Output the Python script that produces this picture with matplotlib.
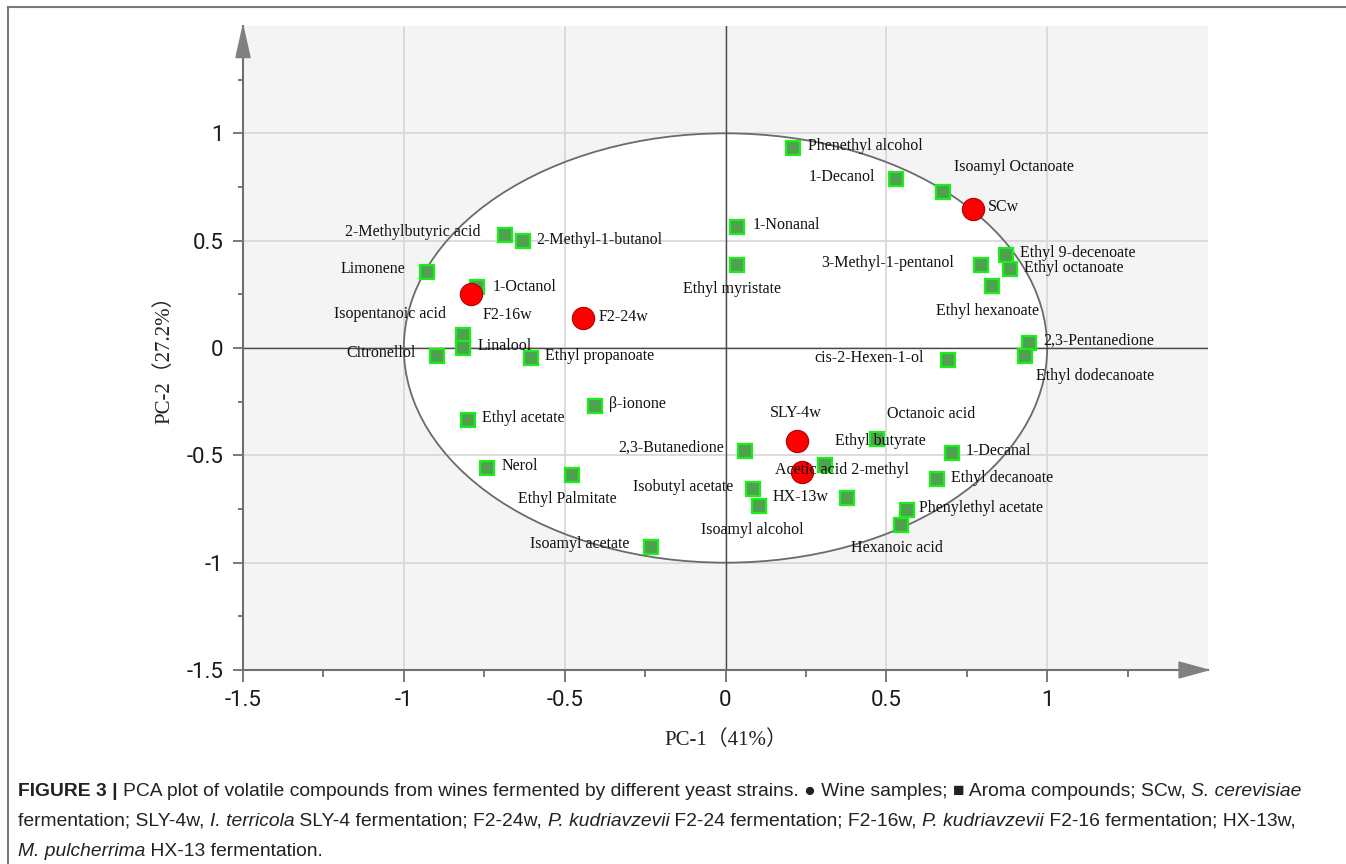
import matplotlib.pyplot as plt
from matplotlib.patches import Ellipse, Polygon
from matplotlib.lines import Line2D
from matplotlib.ticker import FixedLocator, FuncFormatter
import matplotlib.transforms as mtransforms

plt.rcParams['axes.unicode_minus'] = False

# Loadings of the aroma compounds on PC-1 / PC-2
compounds = ['Phenethyl alcohol', '1-Decanol', 'Isoamyl Octanoate', '1-Nonanal',
             'Ethyl myristate', '3-Methyl-1-pentanol', 'Ethyl 9-decenoate',
             'Ethyl octanoate', 'Ethyl hexanoate', '2,3-Pentanedione',
             'Ethyl dodecanoate', 'cis-2-Hexen-1-ol', '2-Methylbutyric acid',
             '2-Methyl-1-butanol', 'Limonene', '1-Octanol', 'Isopentanoic acid',
             'Linalool', 'Citronellol', 'Ethyl propanoate', 'β-ionone',
             'Ethyl acetate', 'Nerol', 'Ethyl Palmitate', 'Isoamyl acetate',
             '2,3-Butanedione', 'Isobutyl acetate', 'Isoamyl alcohol',
             'Ethyl butyrate', 'Octanoic acid', 'Acetic acid 2-methyl',
             '1-Decanal', 'Ethyl decanoate', 'Phenylethyl acetate', 'Hexanoic acid']
comp_pc1 = [0.211, 0.529, 0.675, 0.037, 0.037, 0.793, 0.871, 0.883, 0.830, 0.945,
            0.930, 0.693, -0.684, -0.631, -0.927, -0.774, -0.815, -0.815, -0.896,
            -0.606, -0.407, -0.799, -0.740, -0.476, -0.233, 0.062, 0.087, 0.103,
            0.308, 0.470, 0.379, 0.703, 0.656, 0.563, 0.547]
comp_pc2 = [0.931, 0.787, 0.726, 0.563, 0.386, 0.386, 0.433, 0.368, 0.289, 0.023,
            -0.037, -0.056, 0.526, 0.498, 0.354, 0.284, 0.061, 0.000, -0.037,
            -0.047, -0.270, -0.335, -0.559, -0.591, -0.926, -0.480, -0.656, -0.736,
            -0.545, -0.424, -0.698, -0.489, -0.610, -0.754, -0.824]

# Scores of the wine samples
samples = ['SCw', 'F2-16w', 'F2-24w', 'SLY-4w', 'HX-13w']
samp_pc1 = [0.768, -0.790, -0.442, 0.221, 0.239]
samp_pc2 = [0.647, 0.251, 0.140, -0.433, -0.577]

# label placement: offset from the marker in pixels, horizontal alignment
comp_label_pos = [(15, 2, 'left'), (-21, 2, 'right'), (11, 25, 'left'), (15, 2, 'left'),
                  (-5, -24, 'center'), (-26, 2, 'right'), (14, 2, 'left'),
                  (14, 1, 'left'), (-5, -25, 'center'), (14, 2, 'left'),
                  (11, -20, 'left'), (-25, 2, 'right'), (-25, 3, 'right'),
                  (14, 1, 'left'), (-22, 3, 'right'), (16, 0, 'left'),
                  (-17, 21, 'right'), (14, 2, 'left'), (-22, 3, 'right'),
                  (14, 2, 'left'), (14, 2, 'left'), (14, 2, 'left'), (14, 2, 'left'),
                  (-5, -24, 'center'), (-21, 3, 'right'), (-21, 3, 'right'),
                  (-20, 2, 'right'), (-6, -24, 'center'), (10, 24, 'left'),
                  (10, 25, 'left'), (-5, 28, 'center'), (14, 2, 'left'),
                  (14, 1, 'left'), (12, 2, 'left'), (-5, -23, 'center')]
samp_label_pos = [(15, 2, 'left'), (11, -21, 'left'), (15, 1, 'left'),
                  (-1, 28, 'center'), (-2, -25, 'center')]

serif = ['Liberation Serif', 'DejaVu Serif']
label_font = ['Liberation Serif', 'Noto Sans CJK SC']

fig = plt.figure(figsize=(13.46, 8.64), dpi=100)
ax = fig.add_axes([243 / 1346, 1 - 670 / 864, 965 / 1346, 644 / 864])
ax.set_facecolor('#f4f4f4')
ax.set_xlim(-1.5, 1.5)
ax.set_ylim(-1.5, 1.5)

# correlation circle
ax.add_patch(Ellipse((0, 0), 2, 2, facecolor='white', edgecolor='none', zorder=0.2))
ax.add_patch(Ellipse((0, 0), 2, 2, fill=False, edgecolor='#6a6a6a', lw=1.3, zorder=1))

ax.set_axisbelow(True)
ax.grid(True, which='major', color='#d9d9d9', lw=1.3)
ax.axhline(0, color='#4a4a4a', lw=1.0, zorder=1)
ax.axvline(0, color='#4a4a4a', lw=1.0, zorder=1)

major = [-1.5, -1, -0.5, 0, 0.5, 1]
minor = [-1.25, -0.75, -0.25, 0.25, 0.75, 1.25]
for axis in (ax.xaxis, ax.yaxis):
    axis.set_major_locator(FixedLocator(major))
    axis.set_minor_locator(FixedLocator(minor))
    axis.set_major_formatter(FuncFormatter(lambda v, p: '%g' % v))
ax.tick_params(axis='x', which='major', length=8.6, width=1.1, color='#555555',
               pad=6, labelsize=16, labelcolor='#1a1a1a')
ax.tick_params(axis='x', which='minor', length=5, width=1.1, color='#555555')
ax.tick_params(axis='y', which='major', length=7.2, width=1.1, color='#555555',
               pad=7, labelsize=16, labelcolor='#1a1a1a')
ax.tick_params(axis='y', which='minor', length=3.6, width=1.1, color='#555555')
for lab in ax.get_xticklabels() + ax.get_yticklabels():
    lab.set_family('Roboto')

for side in ('top', 'right'):
    ax.spines[side].set_visible(False)
for side in ('left', 'bottom'):
    ax.spines[side].set_color('#707070')
    ax.spines[side].set_linewidth(1.5)

# arrow heads on the two axes
ax.add_patch(Polygon([(-0.0073, 0.951), (0.0073, 0.951), (0, 1.0)], closed=True,
                     transform=ax.transAxes, clip_on=False, color='#808080', zorder=5))
ax.add_patch(Polygon([(0.970, -0.0124), (0.970, 0.0124), (1.0, 0)], closed=True,
                     transform=ax.transAxes, clip_on=False, color='#808080', zorder=5))

ax.plot(comp_pc1, comp_pc2, 's', ms=10, mfc='#4fa04f', mec='#19f019', mew=1.6,
        zorder=3, linestyle='none')
ax.plot(samp_pc1, samp_pc2, 'o', ms=16, mfc='#ff0000', mec='#b00000', mew=0.8,
        zorder=4, linestyle='none')

for name, x, y, (dx, dy, ha) in zip(compounds, comp_pc1, comp_pc2, comp_label_pos):
    ax.annotate(name, (x, y), xytext=(dx, dy), textcoords='offset pixels',
                ha=ha, va='center', fontsize=11.5, family=serif, color='#111111',
                zorder=6)
for name, x, y, (dx, dy, ha) in zip(samples, samp_pc1, samp_pc2, samp_label_pos):
    ax.annotate(name, (x, y), xytext=(dx, dy), textcoords='offset pixels',
                ha=ha, va='center', fontsize=11.5, family=serif, color='#111111',
                zorder=6)

ax.set_xlabel('PC-1（41%）', fontsize=15, family=label_font, color='#222222', va='center')
ax.xaxis.set_label_coords(0.5, -0.109)
ax.set_ylabel('PC-2（27.2%）', fontsize=15, family=label_font, color='#222222', va='center')
ax.yaxis.set_label_coords(-0.081, 0.489)

# frame around the figure panel
fig.add_artist(Line2D([8 / 1346, 1], [1 - 7 / 864] * 2, transform=fig.transFigure,
                      color='#7a7a7a', lw=1.5))
fig.add_artist(Line2D([8 / 1346] * 2, [0, 1 - 7 / 864], transform=fig.transFigure,
                      color='#7a7a7a', lw=1.5))

# caption, drawn piece by piece so bold and italic runs can be mixed
cap_font = ['Liberation Sans', 'DejaVu Sans']
caption = [
    [('FIGURE 3 | ', 'bold', 'normal'),
     ('PCA plot of volatile compounds from wines fermented by different yeast strains. '
      '● Wine samples; ■ Aroma compounds; SCw, ', 'normal', 'normal'),
     ('S. cerevisiae', 'normal', 'italic')],
    [('fermentation; SLY-4w, ', 'normal', 'normal'),
     ('I. terricola', 'normal', 'italic'),
     (' SLY-4 fermentation; F2-24w, ', 'normal', 'normal'),
     ('P. kudriavzevii', 'normal', 'italic'),
     (' F2-24 fermentation; F2-16w, ', 'normal', 'normal'),
     ('P. kudriavzevii', 'normal', 'italic'),
     (' F2-16 fermentation; HX-13w,', 'normal', 'normal')],
    [('M. pulcherrima', 'normal', 'italic'),
     (' HX-13 fermentation.', 'normal', 'normal')],
]
renderer = fig.canvas.get_renderer()
px = mtransforms.IdentityTransform()
for i, line in enumerate(caption):
    x = 18
    y = 864 - (792 + 29.5 * i)
    for text, weight, style in line:
        t = fig.text(x, y, text, transform=px, fontsize=13.9, family=cap_font,
                     fontweight=weight, fontstyle=style, color='#222222', va='center')
        x += t.get_window_extent(renderer).width

fig.savefig('out.png', dpi=100, facecolor='white')
